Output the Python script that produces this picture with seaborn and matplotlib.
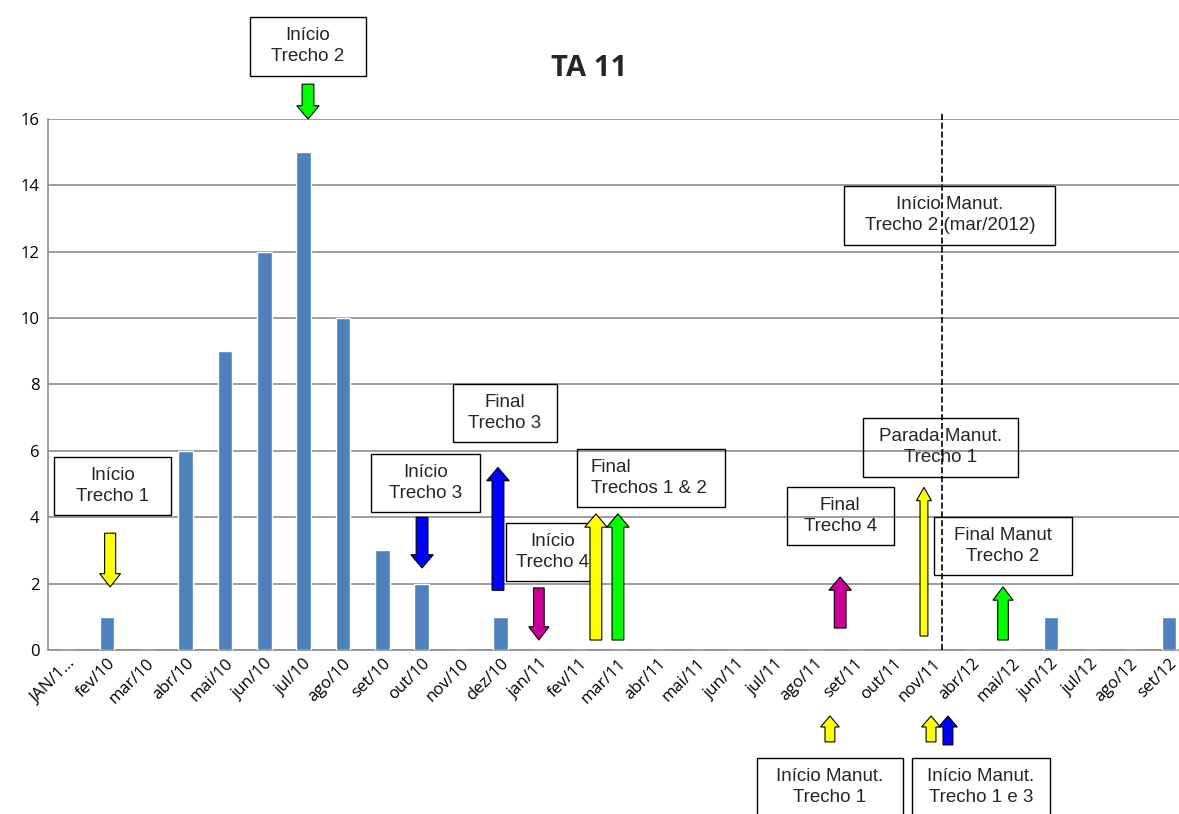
"""
TA 11 - monthly counts with maintenance milestones.
"""
import matplotlib
matplotlib.use("Agg")
import matplotlib.pyplot as plt
from matplotlib.patches import Rectangle
import seaborn as sns

# ---------------------------------------------------------
# Data
# ---------------------------------------------------------
months = ["JAN/1...", "fev/10", "mar/10", "abr/10", "mai/10", "jun/10", "jul/10",
          "ago/10", "set/10", "out/10", "nov/10", "dez/10", "jan/11", "fev/11",
          "mar/11", "abr/11", "mai/11", "jun/11", "jul/11", "ago/11", "set/11",
          "out/11", "nov/11", "abr/12", "mai/12", "jun/12", "jul/12", "ago/12",
          "set/12"]
counts = [0, 1, 0, 6, 9, 12, 15, 10, 3, 2, 0, 1, 0, 0, 0, 0, 0, 0, 0, 0, 0,
          0, 0, 0, 0, 1, 0, 0, 1]
y_ticks = [0, 2, 4, 6, 8, 10, 12, 14, 16]

# milestone labels: (text, x, y, box width, left aligned)
labels = [
    ("Início\nTrecho 1", 1.15, 4.94, 2.97, False),
    ("Início\nTrecho 2", 6.11, 18.19, 2.95, False),
    ("Final\nTrecho 3", 11.12, 7.14, 2.64, False),
    ("Início\nTrecho 3", 9.09, 5.03, 2.77, False),
    ("Início\nTrecho 4", 12.34, 2.95, 2.39, False),
    ("Final\nTrechos 1 & 2", 14.83, 5.18, 3.76, True),
    ("Final\nTrecho 4", 19.64, 4.04, 2.72, False),
    ("Parada Manut.\nTrecho 1", 22.18, 6.11, 3.94, False),
    ("Final Manut\nTrecho 2", 23.78, 3.13, 3.53, False),
    ("Início Manut.\nTrecho 2 (mar/2012)", 22.43, 13.1, 5.36, False),
    ("Início Manut.\nTrecho 1", 19.38, -4.14, 3.71, False),
    ("Início Manut.\nTrecho 1 e 3", 23.22, -4.14, 3.53, False),
]

# arrows: (x, y start, y end, colour, shaft width)
arrows = [
    (1.08, 3.52, 1.90, "#FFFF00", 0.28),
    (6.11, 17.05, 16.0, "#00FF00", 0.30),
    (9.01, 4.00, 2.47, "#0000FF", 0.30),
    (10.94, 1.80, 5.50, "#0000FF", 0.30),
    (11.98, 1.87, 0.30, "#CC0099", 0.27),
    (13.43, 0.30, 4.10, "#FFFF00", 0.30),
    (13.99, 0.30, 4.10, "#00FF00", 0.30),
    (19.64, 0.66, 2.20, "#CC0099", 0.30),
    (21.77, 0.42, 4.90, "#FFFF00", 0.20),
    (23.78, 0.30, 1.90, "#00FF00", 0.27),
    (19.38, -2.77, -1.99, "#FFFF00", 0.25),
    (21.95, -2.77, -1.99, "#FFFF00", 0.25),
    (22.38, -2.86, -1.99, "#0000FF", 0.25),
]

maint_start = 22.23

# ---------------------------------------------------------
# Plot
# ---------------------------------------------------------
sns.set_style("white")
plt.rcParams["font.family"] = ["Liberation Sans", "DejaVu Sans"]

fig = plt.figure(figsize=(11.79, 8.14), dpi=100)
ax = fig.add_axes([0.0407, 0.2015, 0.9675, 0.6523])

sns.barplot(x=months, y=counts, color="#4F81BD", saturation=1, width=0.38, ax=ax,
            zorder=3)

ax.set_xlim(-0.5, len(months) - 0.5)
ax.set_ylim(0, 16)
ax.set_yticks(y_ticks)
ax.yaxis.grid(True, color="#8C8C8C", linewidth=1.2, zorder=0)
ax.set_axisbelow(True)
for side in ["top", "right"]:
    ax.spines[side].set_visible(False)
for side in ["left", "bottom"]:
    ax.spines[side].set_color("#8C8C8C")
    ax.spines[side].set_linewidth(1.2)
ax.tick_params(axis="both", length=0, pad=6, colors="black")
ax.set_yticklabels([str(t) for t in y_ticks], fontsize=12, family=["Open Sans"])
ax.set_xticks(range(len(months)))
ax.set_xticklabels(months, rotation=45, ha="right", rotation_mode="anchor",
                   fontsize=12, family=["Open Sans"])
ax.tick_params(axis="x", pad=4)

# dashed line for start of Trecho 2 maintenance
ax.plot([maint_start, maint_start], [0, 16.2], color="black", linestyle="--",
        linewidth=1.2, clip_on=False, zorder=6)

for x, y0, y1, col, w in arrows:
    ax.arrow(x, y0, 0, y1 - y0, width=w, head_width=w * 1.9,
             head_length=0.4 if abs(y1 - y0) > 1 else 0.33,
             length_includes_head=True, facecolor=col, edgecolor="black",
             linewidth=0.8, clip_on=False, zorder=5)

for text, x, y, w, left in labels:
    h = 1.77
    ax.add_patch(Rectangle((x - w / 2, y - h / 2), w, h, fill=False,
                           edgecolor="black", linewidth=1.0, clip_on=False,
                           zorder=4))
    if left:
        ax.text(x - w / 2 + 0.35, y, text, ha="left", va="center", fontsize=13.5,
                linespacing=1.3, zorder=4, clip_on=False)
    else:
        ax.text(x, y, text, ha="center", va="center", fontsize=13.5,
                linespacing=1.3, zorder=4, clip_on=False)

fig.text(0.5, 0.916, "TA 11", ha="center", va="center", fontsize=21,
         fontweight="bold", family=["Open Sans"])

fig.savefig("out.png", dpi=100)
